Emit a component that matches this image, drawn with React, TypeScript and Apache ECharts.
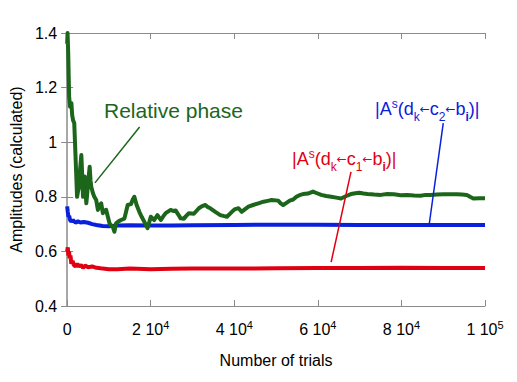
import React, { useEffect, useRef } from "react";
import * as echarts from "echarts";

const xTicks = [0, 20000, 40000, 60000, 80000, 100000];
const xTickLabels: [string, string][] = [
  ["0", ""],
  ["2 10", "4"],
  ["4 10", "4"],
  ["6 10", "4"],
  ["8 10", "4"],
  ["1 10", "5"],
];
const yTickLabels = ["0.4", "0.6", "0.8", "1", "1.2", "1.4"];

const phaseTrials = [
  0, 100, 250, 475, 700, 1020, 1200, 1425, 1700, 2070, 2375, 2600, 2850, 3100, 3400, 3600, 3800, 4000, 4200, 4400,
  4590, 4800, 4990, 5200, 5390, 5600, 5770, 6175, 6500, 6960, 7360, 7800, 8150, 8550, 9000, 9340, 9700, 10140, 10500,
  10930, 11300, 11710, 12300, 12900, 13700, 14100, 14490, 15270, 15700, 16080, 16630, 17270, 17900, 18450, 18900,
  19240, 20020, 20830, 21610, 22400, 23000, 23580, 24770, 25400, 25960, 26600, 27150, 27950, 28500, 29140, 30330,
  31520, 32300, 33080, 33700, 34270, 35460, 36650, 37400, 38240, 39430, 40200, 41020, 41800, 42600, 43390, 44500,
  45770, 47000, 48000, 48930, 50510, 51100, 51700, 52500, 53270, 54100, 54860, 55600, 56450, 57640, 58830, 59800,
  60800, 62000, 63180, 64400, 65550, 66800, 67930, 69000, 69900, 70900, 71890, 73500, 75050, 76600, 78210, 79800,
  81390, 83000, 84550, 85800, 86930, 88500, 90080, 91700, 93260, 94500, 95640, 96400, 97210, 98600, 100000,
];
const phaseValues = [
  1.36, 1.4, 1.33, 1.167, 1.13, 1.143, 1.1, 1.08, 1.07, 0.923, 0.8, 0.82, 0.837, 0.9, 0.953, 0.88, 0.8, 0.84, 0.874,
  0.82, 0.776, 0.81, 0.849, 0.88, 0.91, 0.86, 0.837, 0.813, 0.8, 0.788, 0.752, 0.77, 0.776, 0.74, 0.75, 0.752, 0.73,
  0.703, 0.695, 0.69, 0.672, 0.703, 0.71, 0.715, 0.72, 0.745, 0.77, 0.773, 0.79, 0.8, 0.77, 0.745, 0.725, 0.709,
  0.695, 0.685, 0.727, 0.715, 0.733, 0.715, 0.728, 0.74, 0.752, 0.748, 0.75, 0.735, 0.721, 0.72, 0.73, 0.74, 0.738,
  0.758, 0.766, 0.77, 0.762, 0.758, 0.745, 0.733, 0.73, 0.727, 0.745, 0.755, 0.758, 0.745, 0.755, 0.764, 0.77, 0.776,
  0.782, 0.785, 0.788, 0.786, 0.776, 0.77, 0.778, 0.786, 0.79, 0.8, 0.806, 0.81, 0.812, 0.819, 0.813, 0.807, 0.803,
  0.8, 0.797, 0.794, 0.803, 0.81, 0.813, 0.815, 0.812, 0.81, 0.808, 0.807, 0.81, 0.809, 0.806, 0.807, 0.805, 0.804,
  0.807, 0.807, 0.808, 0.809, 0.809, 0.809, 0.808, 0.807, 0.8, 0.794, 0.795, 0.795,
];

const c2Trials = [
  0, 150, 300, 500, 700, 1000, 1400, 2000, 2600, 3200, 4000, 5000, 6000, 7000, 8500, 10000, 12000, 15000, 20000,
  25000, 30000, 40000, 50000, 60000, 70000, 80000, 90000, 100000,
];
const c2Values = [
  0.765, 0.745, 0.727, 0.73, 0.715, 0.709, 0.715, 0.705, 0.71, 0.706, 0.708, 0.705, 0.7, 0.697, 0.693, 0.692, 0.695,
  0.696, 0.695, 0.695, 0.696, 0.697, 0.698, 0.698, 0.697, 0.697, 0.697, 0.697,
];

const c1Trials = [
  0, 150, 300, 450, 600, 800, 1000, 1300, 1600, 2000, 2400, 2800, 3300, 3800, 4300, 5000, 6000, 7000, 8000, 10000,
  12000, 15000, 20000, 25000, 30000, 40000, 50000, 60000, 70000, 80000, 90000, 100000,
];
const c1Values = [
  0.6, 0.615, 0.585, 0.6, 0.575, 0.585, 0.555, 0.565, 0.55, 0.545, 0.555, 0.545, 0.55, 0.54, 0.548, 0.542, 0.545,
  0.54, 0.538, 0.535, 0.535, 0.537, 0.535, 0.536, 0.537, 0.537, 0.538, 0.539, 0.539, 0.54, 0.539, 0.539,
];

const phasePointer: [number, number][] = [
  [17340, 1.056],
  [6650, 0.851],
];
const c2Pointer: [number, number][] = [
  [90010, 1.07],
  [86690, 0.704],
];
const c1Pointer: [number, number][] = [
  [67930, 0.891],
  [63180, 0.561],
];

const GREEN = "#1b661b";
const BLUE = "#0a20dc";
const RED = "#e00012";
const FONT = "'Liberation Sans', Helvetica, Arial, sans-serif";
const FRAME = "#8a8a8a";

const zip = (xs: number[], ys: number[]) => xs.map((x, i) => [x, ys[i]]);

const ampRich = (color: string) => ({
  n: { fontSize: 18, fontFamily: FONT, color, lineHeight: 24 },
  sup: { fontSize: 12, fontFamily: FONT, color, verticalAlign: "top", lineHeight: 12, padding: [1, 0, 0, 0] },
  sub: { fontSize: 12, fontFamily: FONT, color, verticalAlign: "bottom", lineHeight: 12, padding: [0, 0, -2, 0] },
  subb: {
    fontSize: 12,
    fontFamily: FONT,
    fontWeight: "bold",
    color,
    verticalAlign: "bottom",
    lineHeight: 12,
    padding: [0, 0, -2, 0],
  },
  ar: { fontSize: 12, fontFamily: "'DejaVu Sans', sans-serif", color, lineHeight: 24 },
});

const ampText = (mid: string) =>
  `{n||A}{sup|s}{n|(d}{sub|k}{ar|←}{n|c}{sub|${mid}}{ar|←}{n|b}{subb|i}{n|)|}`;

export default function App() {
  const ref = useRef<HTMLDivElement>(null);
  useEffect(() => {
    if (!ref.current) return;
    const chart = echarts.init(ref.current, undefined, { renderer: "svg" });
    const pointerLine = (pts: [number, number][], color: string) => ({
      silent: true,
      symbol: ["none", "none"],
      label: { show: false },
      lineStyle: { color, width: 1.5, type: "solid" },
      emphasis: { disabled: true },
      data: [[{ coord: pts[0] }, { coord: pts[1] }]],
    });
    const xLabelFmt = (v: number) => {
      const i = xTicks.indexOf(v);
      if (i < 0) return "";
      const [m, e] = xTickLabels[i];
      return e ? `{n|${m}}{s|${e}}` : `{n|${m}}`;
    };
    const yLabelFmt = (v: number) => {
      const i = Math.round((v - 0.4) / 0.2);
      return yTickLabels[i] ?? "";
    };
    chart.setOption({
      animation: false,
      backgroundColor: "#ffffff",
      grid: { left: 64, right: 32, top: 33, bottom: 76, containLabel: false },
      xAxis: [
        {
          type: "value",
          min: 0,
          max: 100000,
          interval: 20000,
          name: "Number of trials",
          nameLocation: "middle",
          nameGap: 46,
          nameTextStyle: { fontFamily: FONT, fontSize: 16, color: "#000" },
          axisLine: { show: true, lineStyle: { color: FRAME, width: 1 } },
          axisTick: { show: true, inside: true, length: 6, lineStyle: { color: FRAME } },
          splitLine: { show: false },
          axisLabel: {
            margin: 13,
            formatter: xLabelFmt,
            rich: {
              n: { fontFamily: FONT, fontSize: 16, color: "#000", lineHeight: 20 },
              s: { fontFamily: FONT, fontSize: 11, color: "#000", verticalAlign: "top", lineHeight: 11 },
            },
          },
        },
        {
          type: "value",
          position: "top",
          min: 0,
          max: 100000,
          interval: 20000,
          axisLine: { show: true, lineStyle: { color: FRAME, width: 1 } },
          axisTick: { show: true, inside: true, length: 6, lineStyle: { color: FRAME } },
          axisLabel: { show: false },
          splitLine: { show: false },
        },
      ],
      yAxis: [
        {
          type: "value",
          min: 0.4,
          max: 1.4,
          interval: 0.2,
          name: "Amplitudes (calculated)",
          nameLocation: "middle",
          nameGap: 37,
          nameTextStyle: { fontFamily: FONT, fontSize: 16, color: "#000" },
          axisLine: { show: true, lineStyle: { color: FRAME, width: 1 } },
          axisTick: { show: true, inside: true, length: 6, lineStyle: { color: FRAME } },
          splitLine: { show: false },
          axisLabel: { margin: 10, fontFamily: FONT, fontSize: 16, color: "#000", formatter: yLabelFmt },
        },
        {
          type: "value",
          position: "right",
          min: 0.4,
          max: 1.4,
          interval: 0.2,
          axisLine: { show: true, lineStyle: { color: "#a8a8a8", width: 2 } },
          axisTick: { show: true, inside: true, length: 6, lineStyle: { color: FRAME } },
          axisLabel: { show: false },
          splitLine: { show: false },
        },
      ],
      series: [
        {
          name: "c1",
          type: "line",
          data: zip(c1Trials, c1Values),
          showSymbol: false,
          symbol: "none",
          silent: true,
          lineStyle: { color: RED, width: 4 },
          itemStyle: { color: RED },
          markLine: pointerLine(c1Pointer, RED),
        },
        {
          name: "c2",
          type: "line",
          data: zip(c2Trials, c2Values),
          showSymbol: false,
          symbol: "none",
          silent: true,
          lineStyle: { color: BLUE, width: 4 },
          itemStyle: { color: BLUE },
          markLine: pointerLine(c2Pointer, BLUE),
        },
        {
          name: "Relative phase",
          type: "line",
          data: zip(phaseTrials, phaseValues),
          showSymbol: false,
          symbol: "none",
          silent: true,
          lineStyle: { color: GREEN, width: 4, join: "round" },
          itemStyle: { color: GREEN },
          markLine: pointerLine(phasePointer, GREEN),
        },
      ],
      graphic: [
        {
          type: "text",
          x: 104,
          y: 110,
          silent: true,
          style: {
            text: "Relative phase",
            fill: GREEN,
            font: `21px ${FONT}`,
            textAlign: "left",
            textVerticalAlign: "middle",
          },
        },
        {
          type: "text",
          x: 375,
          y: 109,
          silent: true,
          style: {
            text: ampText("2"),
            rich: ampRich(BLUE),
            fill: BLUE,
            textAlign: "left",
            textVerticalAlign: "middle",
          },
        },
        {
          type: "text",
          x: 292,
          y: 159,
          silent: true,
          style: {
            text: ampText("1"),
            rich: ampRich(RED),
            fill: RED,
            textAlign: "left",
            textVerticalAlign: "middle",
          },
        },
      ],
    });
    return () => chart.dispose();
  }, []);
  return <div ref={ref} style={{ width: 517, height: 382, position: "absolute", left: 0, top: 0 }} />;
}
